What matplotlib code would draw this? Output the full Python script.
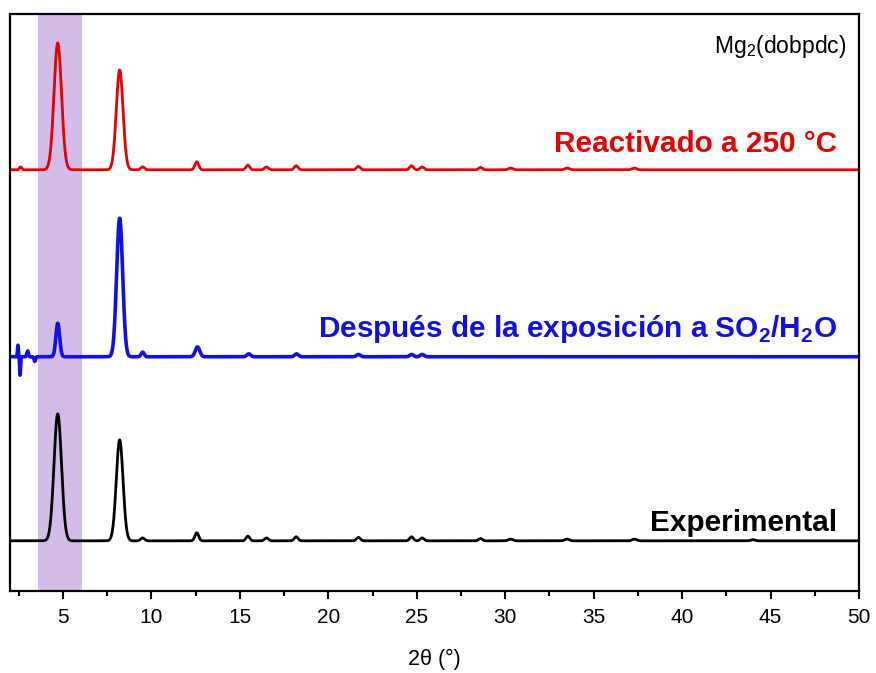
import numpy as np
import matplotlib
matplotlib.use("Agg")
import matplotlib.pyplot as plt

plt.rcParams['font.family'] = ['Liberation Sans', 'DejaVu Sans']
plt.rcParams['mathtext.fontset'] = 'custom'
plt.rcParams['mathtext.rm'] = 'Liberation Sans'
plt.rcParams['mathtext.bf'] = 'Liberation Sans:bold'

# peak tables: 2theta position, height above baseline, FWHM (deg)
exp_pos = [4.70, 8.20, 9.50, 12.56, 15.45, 16.50, 18.18, 21.70, 24.70, 25.30, 28.60, 30.3, 33.5, 37.3, 44.0]
exp_hgt = [22.0, 17.5, 0.5, 1.4, 0.8, 0.5, 0.7, 0.6, 0.7, 0.5, 0.4, 0.3, 0.3, 0.3, 0.2]
exp_fwhm = [0.50, 0.45, 0.25, 0.25, 0.25, 0.25, 0.25, 0.25, 0.25, 0.25, 0.25, 0.3, 0.3, 0.3, 0.3]

so2_pos = [2.45, 2.57, 3.0, 3.4, 4.70, 8.20, 9.50, 12.60, 15.5, 18.2, 21.7, 24.7, 25.3]
so2_hgt = [2.0, -3.2, 1.0, -0.8, 5.8, 24.0, 0.8, 1.7, 0.5, 0.5, 0.4, 0.4, 0.4]
so2_fwhm = [0.06, 0.06, 0.1, 0.1, 0.25, 0.40, 0.2, 0.3, 0.25, 0.25, 0.25, 0.25, 0.25]

react_pos = [2.6, 4.70, 8.20, 9.50, 12.56, 15.45, 16.50, 18.18, 21.70, 24.70, 25.30, 28.60, 30.3, 33.5, 37.3]
react_hgt = [0.5, 22.0, 17.3, 0.5, 1.4, 0.8, 0.5, 0.7, 0.6, 0.7, 0.5, 0.4, 0.3, 0.3, 0.3]
react_fwhm = [0.15, 0.50, 0.45, 0.25, 0.25, 0.25, 0.25, 0.25, 0.25, 0.25, 0.25, 0.25, 0.3, 0.3, 0.3]

# stacking offsets for each pattern
baselines = [8.7, 40.6, 73.0]
colors = ['black', '#1010e6', '#e60000']
labels = ['Experimental',
          r'Después de la exposición a SO$_\mathbf{2}$/H$_\mathbf{2}$O',
          'Reactivado a 250 °C']
label_y = [11.8, 45.4, 77.4]

band = (3.6, 6.05)

tt = np.linspace(2, 50, 4801)


def pattern(pos, hgt, fwhm, base):
    y = np.full_like(tt, base)
    for p, h, w in zip(pos, hgt, fwhm):
        s = w / 2.3548
        y += h * np.exp(-0.5 * ((tt - p) / s) ** 2)
    return y


fig = plt.figure(figsize=(8.76, 6.73), dpi=100)
ax = fig.add_axes([0.0114, 0.1218, 0.9692, 0.8574])

ax.axvspan(band[0], band[1], color='#d3bce9', lw=0, zorder=0)

tables = [(exp_pos, exp_hgt, exp_fwhm), (so2_pos, so2_hgt, so2_fwhm), (react_pos, react_hgt, react_fwhm)]
for (p, h, w), b, c, lab, ly in zip(tables, baselines, colors, labels, label_y):
    lw = 2.6 if c == '#1010e6' else 2.0
    ax.plot(tt, pattern(p, h, w, b), color=c, lw=lw, zorder=2)
    ax.text(48.75, ly, lab, color=c, fontsize=21.4, fontweight='bold',
            ha='right', va='center')

ax.text(49.3, 94.4, r'Mg$_2$(dobpdc)', fontsize=16.5, ha='right', va='center')

ax.set_xlim(2, 50)
ax.set_ylim(0, 100)
ax.set_yticks([])
ax.set_xticks(np.arange(5, 51, 5))
ax.set_xticks(np.arange(2.5, 50, 2.5), minor=True)
ax.tick_params(axis='x', which='major', direction='out', length=6, width=1.5, labelsize=15, pad=6)
ax.tick_params(axis='x', which='minor', direction='out', length=3.5, width=1.5)
for s in ax.spines.values():
    s.set_linewidth(1.6)
ax.set_xlabel('2θ (°)', fontsize=15.5, labelpad=16)

fig.savefig('out.png', dpi=100)
